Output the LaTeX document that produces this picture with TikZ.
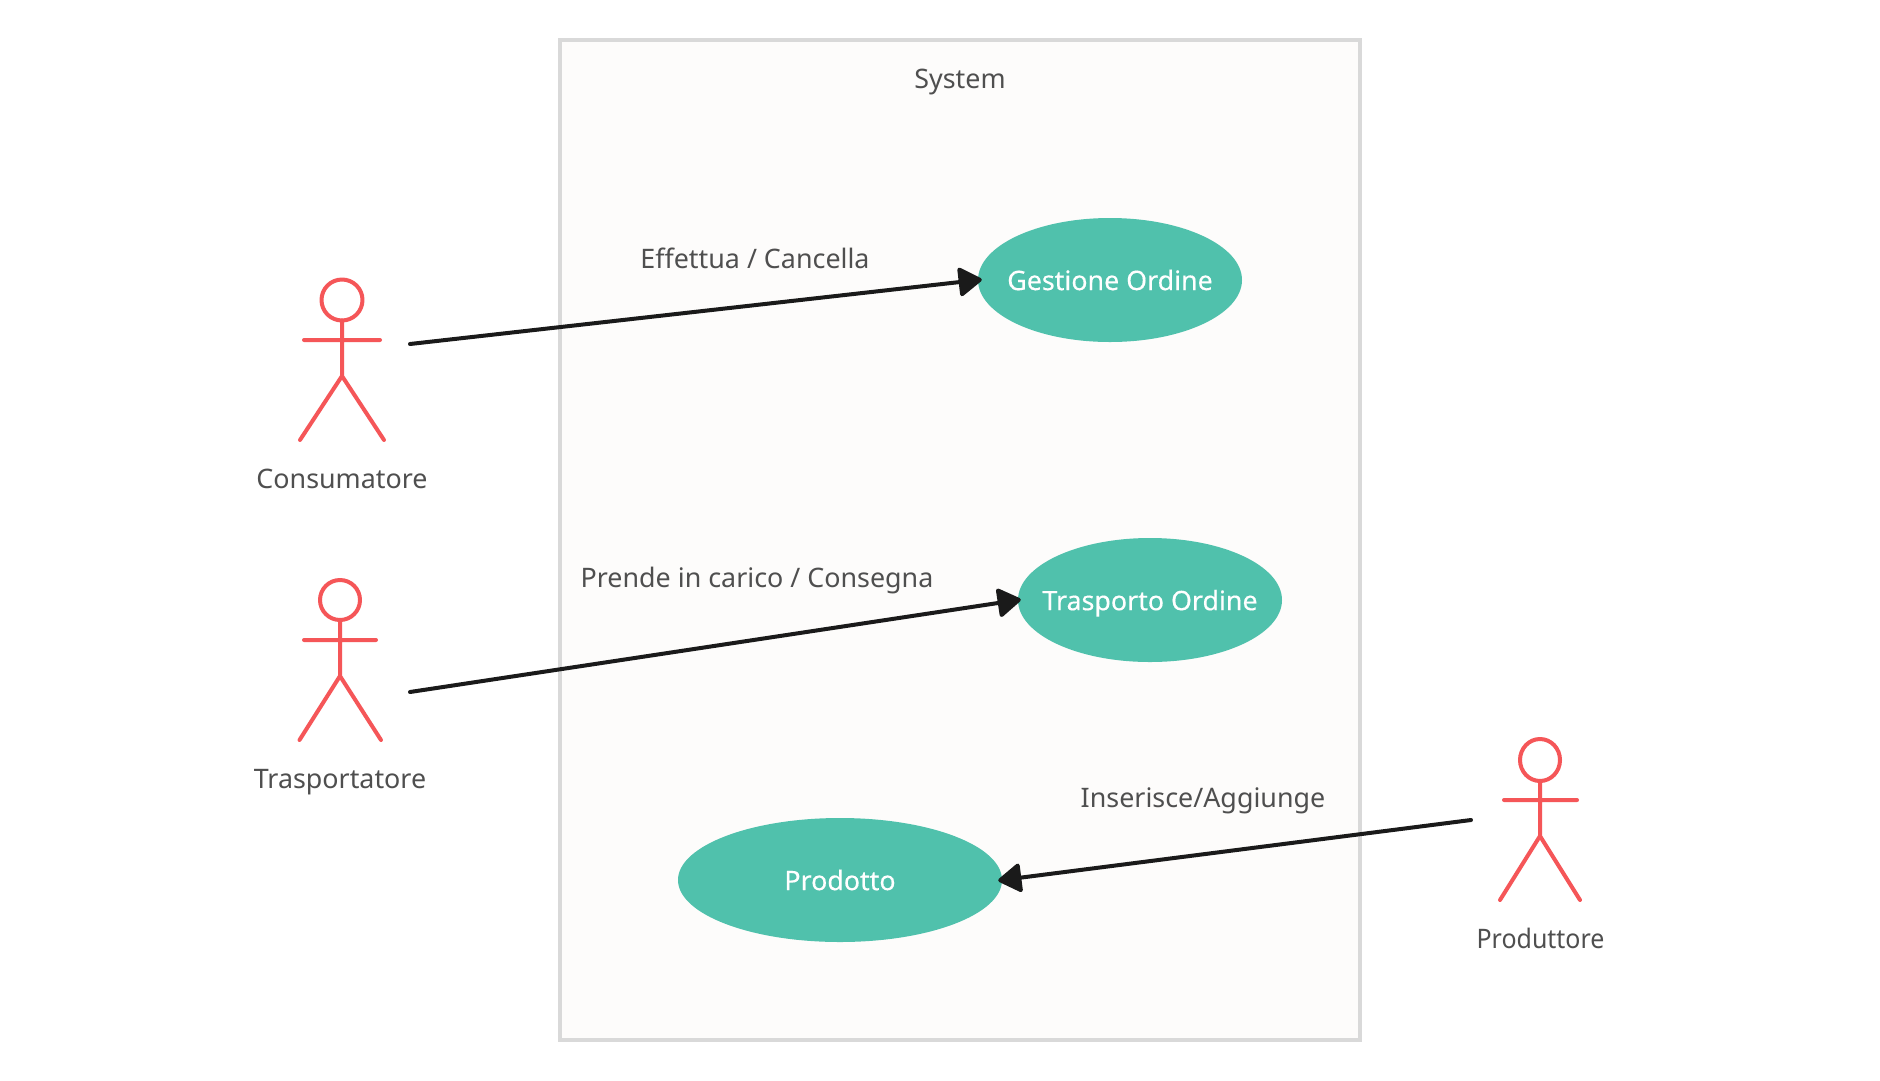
\documentclass[tikz,border=0pt]{standalone}
\usepackage{fontspec}
\setmainfont{Noto Sans}
\newfontfamily\medfont[FakeBold=0.35]{Noto Sans}
\usetikzlibrary{arrows.meta,shapes.geometric}
\definecolor{teal1}{HTML}{50C1AC}
\definecolor{red1}{HTML}{F55658}
\definecolor{frame1}{HTML}{D9D9D9}
\definecolor{paper1}{HTML}{FDFCFB}
\definecolor{text1}{HTML}{4F4F4F}
\definecolor{ink1}{HTML}{1A1A1A}
\tikzset{
  sysbox/.style={draw=frame1,fill=paper1,line width=4.2pt},
  usecase/.style={ellipse,fill=teal1,inner sep=0pt,text=white,font=\medfont\fontsize{26.8}{30}\selectfont},
  lbl/.style={text=text1,inner sep=0pt,font=\fontsize{26.85}{30}\selectfont},
  actorline/.style={draw=red1,line width=4pt,line cap=round,line join=round},
  conn/.style={draw=ink1,line width=4pt,line cap=round,-{Triangle[length=25pt,width=31pt,round]}},
}
\begin{document}
\begin{tikzpicture}[x=1pt,y=-1pt]
\useasboundingbox (0,0) rectangle (1880,1080);
\fill[white] (0,0) rectangle (1880,1080);
\node[sysbox,rectangle,minimum width=800pt,minimum height=1000pt,inner sep=0pt] (sys) at (960,540) {};
\node[lbl] (systitle) at (960,82) {System};
\node[usecase,minimum width=264pt,minimum height=124pt] (gest) at (1110,280) {\makebox[0pt]{Gestione Ordine}};
\node[usecase,minimum width=264pt,minimum height=124pt] (trasp) at (1150,600) {\makebox[0pt]{\raisebox{0pt}[\height][0pt]{Trasporto Ordine}}};
\node[usecase,minimum width=324pt,minimum height=124pt] (prod) at (840,880) {\makebox[0pt]{Prodotto}};
\node[lbl] (le) at (755,258) {Effettua / Cancella};
\node[lbl] (lp) at (757,581) {Prende in carico / Consegna};
\node[lbl] (li) at (1203,801) {Inserisce/Aggiunge};
\node[lbl] (ac1) at (342,479) {Consumatore};
\node[lbl] (ac2) at (340,782) {Trasportatore};
\node[lbl] (ac3) at (1540.5,938) {\scalebox{0.93}[1]{Produttore}};
% actor 1
\draw[actorline] (342,300) ellipse [x radius=20.5,y radius=20.5];
\draw[actorline] (342,320.5) -- (342,376) (304,340) -- (380,340) (300,440) -- (342,376) -- (384,440);
% actor 2
\draw[actorline] (340,600) ellipse [x radius=20,y radius=20];
\draw[actorline] (340,620) -- (340,676) (304,640) -- (376,640) (299.5,740) -- (340,676) -- (381,740);
% actor 3
\draw[actorline] (1540,760) ellipse [x radius=20,y radius=21];
\draw[actorline] (1540,781) -- (1540,836) (1504,800) -- (1577,800) (1500,900) -- (1540,836) -- (1580,900);
% connectors
\coordinate (s1) at (410,344);
\coordinate (s2) at (410,692);
\coordinate (s3) at (1471,820);
\draw[conn,shorten >=-4pt] (s1) -- (gest.west);
\draw[conn,shorten >=-3pt] (s2) -- (trasp.west);
\draw[conn,shorten >=-4pt] (s3) -- (prod.east);
\end{tikzpicture}
\end{document}
